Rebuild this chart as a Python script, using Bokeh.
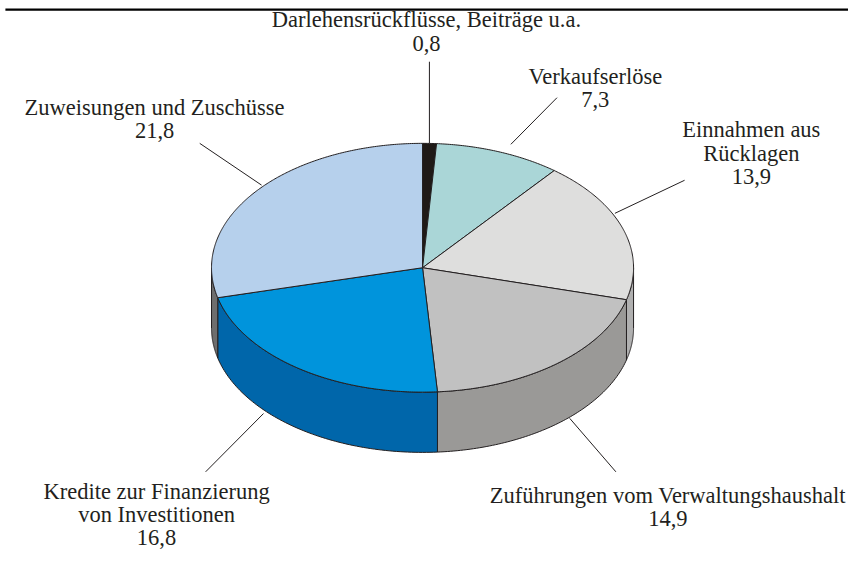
import numpy as np
from bokeh.plotting import figure
from bokeh.models import Range1d, ColumnDataSource
from bokeh.core.properties import value
from bokeh.embed import file_html
from bokeh.resources import INLINE

# ---------------- data ----------------
categories = [
    "Darlehensrückflüsse, Beiträge u.a.",
    "Verkaufserlöse",
    "Einnahmen aus\nRücklagen",
    "Zuführungen vom Verwaltungshaushalt",
    "Kredite zur Finanzierung\nvon Investitionen",
    "Zuweisungen und Zuschüsse",
]
values = [0.8, 7.3, 13.9, 14.9, 16.8, 21.8]

# ---------------- styles / layout ----------------
top_colors = ["#1f1a17", "#aad6d7", "#dededd", "#c1c1c1", "#0094dc", "#b6d0ec"]
side_colors = ["#1f1a17", "#88b0b0", "#b0b0b0", "#9a9997", "#0066aa", "#6e6e6e"]
INK = "#231f20"
FONT = value("Liberation Serif")
FSIZE = "22.5px"
LINE_GAP = 24

W, H = 848, 551          # canvas size
RW, RH = 864, 567        # reference frame (data units)
CX, CY, RX, RY, DEPTH = 430, 275, 215, 128, 62

# label anchor (centre x, first line centre y) in reference pixels
label_pos = [(434, 20), (606, 78), (765, 133), (680, 509), (159, 505), (157, 110)]
# leader lines: (start on pie, end near label)
leaders = [((437, 147), (437, 63)), ((520, 148), (567, 100)), ((626, 219), (697, 185)),
           ((580, 430), (627, 485)), ((268, 425), (209, 485)), ((266, 190), (203, 147))]

p = figure(width=W, height=H, x_range=Range1d(0, RW), y_range=Range1d(RH, 0),
           output_backend="svg", toolbar_location=None, min_border=0,
           x_axis_location=None, y_axis_location=None)
p.grid.visible = False
p.outline_line_color = None
p.background_fill_color = "white"
p.border_fill_color = "white"


def rim(theta_deg, dy=0.0):
    t = np.radians(theta_deg)
    return CX + RX * np.sin(t), CY - RY * np.cos(t) + dy


vals = np.array(values, dtype=float)
cum = np.concatenate([[0.0], np.cumsum(vals)]) / vals.sum() * 360.0

# side walls (visible front half: 90..270 deg clockwise from top)
sx, sy, sc = [], [], []
for i in range(len(vals)):
    a0, a1 = max(cum[i], 90.0), min(cum[i + 1], 270.0)
    if a1 <= a0:
        continue
    th = np.linspace(a0, a1, 80)
    x_top, y_top = rim(th)
    x_bot, y_bot = rim(th[::-1], DEPTH)
    sx.append(list(x_top) + list(x_bot))
    sy.append(list(y_top) + list(y_bot))
    sc.append(side_colors[i])
p.patches(sx, sy, fill_color=sc, line_color=INK, line_width=1)

# top faces
tx, ty = [], []
for i in range(len(vals)):
    th = np.linspace(cum[i], cum[i + 1], max(4, int((cum[i + 1] - cum[i]) * 2)))
    x, y = rim(th)
    tx.append([CX] + list(x))
    ty.append([CY] + list(y))
p.patches(tx, ty, fill_color=top_colors, line_color=INK, line_width=1)

# leader lines
p.segment(x0=[a[0] for a, b in leaders], y0=[a[1] for a, b in leaders],
          x1=[b[0] for a, b in leaders], y1=[b[1] for a, b in leaders],
          line_color=INK, line_width=1)

# top rule
p.segment(x0=[5], y0=[9.3], x1=[RW], y1=[9.3], line_color="black", line_width=2.2)

# labels
lx, ly, lt = [], [], []
for i, cat in enumerate(categories):
    lines = cat.split("\n") + [f"{values[i]:.1f}".replace(".", ",")]
    x0, y0 = label_pos[i]
    for k, s in enumerate(lines):
        lx.append(x0)
        ly.append(y0 + k * LINE_GAP)
        lt.append(s)
src = ColumnDataSource(dict(x=lx, y=ly, text=lt))
p.text(x="x", y="y", text="text", source=src, text_font=FONT, text_font_size=FSIZE,
       text_color=INK, text_align="center", text_baseline="middle")

open("out.html", "w").write(file_html(p, INLINE))
